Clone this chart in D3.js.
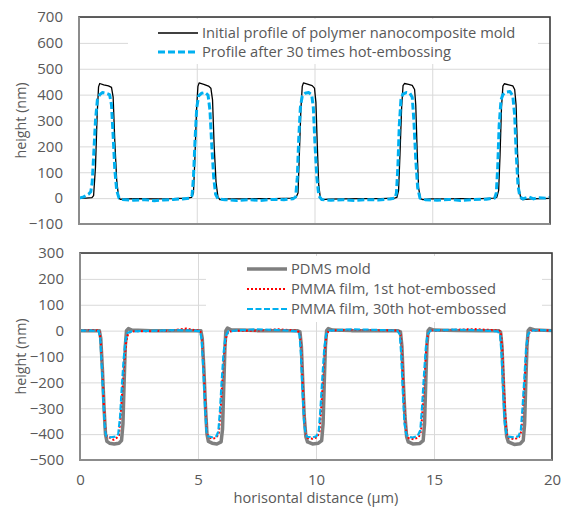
<!DOCTYPE html>
<html>
<head>
<meta charset="utf-8">
<script src="https://cdn.jsdelivr.net/npm/d3@7"></script>
<style>
  body { margin: 0; background: #ffffff; }
  text { font-family: "Open Sans", sans-serif; fill: #595959; }
</style>
</head>
<body>
<svg id="chart" width="562" height="509"></svg>
<script>
/**
 * Height profiles. Each point is [distance (um), height (nm)]
 */

// top panel: nanocomposite mold
var initialProfile = [
    [0,0],[0.3,0],[0.55,2],
    [0.62,10],[0.7,120],[0.77,320],[0.83,430],[0.88,443],[1.05,438],[1.25,434],[1.38,428],[1.45,390],[1.52,220],[1.6,70],[1.68,5],[1.75,-5],[1.9,-3],
    [2.5,-2],[3.2,-3],[4.0,-2],[4.6,0],[4.78,3],
    [4.86,20],[4.92,150],[4.99,340],[5.05,432],[5.1,445],[5.3,440],[5.5,433],[5.6,425],[5.67,380],[5.74,200],[5.82,60],[5.9,5],[5.98,-6],[6.2,-3],
    [6.8,-3],[7.5,-2],[8.3,-2],[9.0,0],[9.22,3],
    [9.3,20],[9.35,150],[9.42,340],[9.48,432],[9.53,445],[9.7,441],[9.9,435],[10.0,425],[10.06,370],[10.12,200],[10.18,50],[10.25,0],[10.35,-6],[10.6,-4],
    [11.2,-3],[12,-2],[12.8,-2],[13.4,0],[13.5,3],
    [13.57,30],[13.63,170],[13.7,350],[13.76,435],[13.82,443],[14.0,440],[14.15,436],[14.25,420],[14.3,360],[14.36,180],[14.42,40],[14.5,-2],[14.6,-6],[14.9,-3],
    [15.5,-3],[16.3,-2],[17.1,-2],[17.6,0],[17.74,3],
    [17.82,30],[17.88,170],[17.94,350],[18.0,433],[18.06,442],[18.25,438],[18.42,434],[18.5,420],[18.56,360],[18.62,180],[18.68,40],[18.76,-2],[18.86,-6],[19.2,-3],[19.6,-2],[20,-1]
];

var after30Profile = [
    [0,0],[0.2,5],[0.4,15],[0.5,25],[0.56,60],[0.62,160],[0.7,300],[0.78,380],[0.88,400],[1.0,408],[1.15,405],[1.3,400],[1.38,360],[1.45,240],[1.52,110],[1.6,30],[1.7,0],[1.85,-5],
    [2.3,-8],[2.8,-6],[3.2,-10],[3.6,-7],[4.0,-5],[4.4,-3],[4.7,0],
    [4.8,10],[4.86,80],[4.93,230],[5.0,350],[5.08,395],[5.2,405],[5.35,408],[5.48,398],[5.56,340],[5.64,200],[5.72,80],[5.8,15],[5.9,-3],
    [6.2,-6],[6.7,-9],[7.2,-6],[7.7,-9],[8.2,-5],[8.7,-6],[9.1,-2],
    [9.2,5],[9.27,80],[9.33,230],[9.4,350],[9.48,395],[9.6,405],[9.75,408],[9.88,400],[9.95,350],[10.02,210],[10.1,80],[10.18,10],[10.3,-5],
    [10.7,-8],[11.2,-6],[11.7,-9],[12.2,-6],[12.7,-7],[13.2,-3],[13.42,0],
    [13.48,20],[13.54,120],[13.6,280],[13.67,380],[13.75,402],[13.9,408],[14.05,405],[14.15,390],[14.22,300],[14.3,150],[14.38,40],[14.48,0],
    [14.7,-6],[15.2,-8],[15.7,-5],[16.2,-9],[16.7,-6],[17.3,-4],[17.65,0],
    [17.72,20],[17.78,120],[17.84,280],[17.92,380],[18.0,400],[18.15,410],[18.3,412],[18.42,395],[18.5,320],[18.56,180],[18.64,50],[18.72,5],[18.85,-3],
    [19.1,5],[19.3,-3],[19.5,2],[19.8,0],[20,3]
];

// bottom panel: PDMS mold and PMMA replicas
var pdmsMold = [
    [0,0],[0.6,0],[0.82,0],
    [0.88,-30],[0.95,-150],[1.02,-300],[1.08,-400],[1.14,-428],[1.25,-435],[1.45,-438],[1.65,-435],[1.76,-425],[1.82,-360],[1.87,-200],[1.92,-60],[1.97,0],[2.05,8],[2.2,2],
    [3,0],[4,0],[4.9,0],[5.12,0],
    [5.18,-30],[5.25,-150],[5.32,-300],[5.38,-400],[5.44,-428],[5.6,-435],[5.8,-438],[5.98,-430],[6.04,-380],[6.09,-220],[6.14,-70],[6.18,0],[6.25,10],[6.4,3],
    [7.5,0],[8.5,0],[9.2,0],[9.32,-5],
    [9.38,-60],[9.44,-200],[9.5,-330],[9.57,-410],[9.64,-430],[9.85,-438],[10.1,-435],[10.24,-425],[10.3,-360],[10.35,-200],[10.4,-60],[10.45,0],[10.52,8],[10.7,2],
    [11.5,0],[12.5,0],[13.45,0],[13.58,-5],
    [13.64,-60],[13.7,-200],[13.77,-330],[13.84,-410],[13.91,-430],[14.1,-438],[14.4,-436],[14.54,-425],[14.6,-360],[14.65,-200],[14.7,-60],[14.75,0],[14.82,8],[15,2],
    [16,0],[17,0],[17.72,0],[17.82,-5],
    [17.88,-60],[17.94,-200],[18.0,-330],[18.08,-410],[18.15,-430],[18.4,-440],[18.65,-437],[18.78,-425],[18.84,-360],[18.89,-200],[18.94,-60],[18.99,0],[19.06,8],[19.3,2],[20,0]
];

var pmmaFirst = [
    [0,0],[0.5,2],[0.82,0],
    [0.88,-40],[0.95,-160],[1.02,-300],[1.08,-390],[1.14,-410],[1.3,-415],[1.42,-422],[1.55,-415],[1.65,-405],[1.72,-330],[1.8,-220],[1.88,-120],[1.96,-40],[2.05,-10],[2.2,-3],
    [3,-2],[3.8,0],[4.5,8],[4.8,3],[5.1,0],
    [5.18,-40],[5.25,-160],[5.32,-300],[5.38,-395],[5.45,-412],[5.6,-418],[5.75,-415],[5.88,-400],[5.95,-320],[6.02,-210],[6.1,-100],[6.18,-30],[6.28,-5],
    [6.6,0],[7.5,0],[8.4,5],[9.2,0],[9.32,-10],
    [9.38,-80],[9.45,-230],[9.52,-360],[9.58,-405],[9.65,-415],[9.85,-418],[10.05,-412],[10.15,-390],[10.22,-300],[10.3,-180],[10.38,-70],[10.45,-15],[10.55,0],
    [11.5,3],[12.5,2],[13.5,0],[13.58,-10],
    [13.64,-80],[13.71,-230],[13.78,-360],[13.85,-405],[13.92,-415],[14.15,-420],[14.35,-412],[14.45,-390],[14.52,-300],[14.6,-180],[14.67,-70],[14.74,-15],[14.85,0],
    [15.8,3],[16.7,6],[17.5,2],[17.78,0],[17.84,-10],
    [17.9,-80],[17.97,-230],[18.04,-360],[18.1,-405],[18.18,-415],[18.4,-420],[18.6,-412],[18.7,-390],[18.77,-300],[18.85,-180],[18.92,-70],[19.0,-15],[19.1,0],
    [19.5,2],[20,0]
];

var pmmaThirtieth = [
    [0,0],[0.5,0],[0.8,-2],
    [0.86,-30],[0.93,-150],[1.0,-290],[1.06,-385],[1.12,-408],[1.3,-412],[1.5,-410],[1.62,-400],[1.7,-330],[1.77,-220],[1.85,-110],[1.93,-35],[2.02,-8],[2.2,-3],
    [3,-1],[4,2],[4.8,0],[5.1,-3],
    [5.16,-40],[5.23,-160],[5.3,-300],[5.36,-390],[5.43,-408],[5.6,-412],[5.78,-408],[5.86,-390],[5.93,-310],[6.0,-200],[6.08,-90],[6.16,-25],[6.28,-3],
    [6.8,2],[7.5,5],[8.5,2],[9.2,-3],[9.3,-15],
    [9.36,-90],[9.43,-240],[9.5,-360],[9.56,-400],[9.63,-410],[9.85,-413],[10.02,-408],[10.12,-385],[10.19,-300],[10.27,-180],[10.35,-70],[10.43,-15],[10.55,0],
    [11.5,5],[12.5,3],[13.45,0],[13.55,-15],
    [13.61,-90],[13.68,-240],[13.75,-360],[13.82,-400],[13.9,-410],[14.1,-413],[14.3,-408],[14.42,-385],[14.49,-300],[14.57,-180],[14.65,-70],[14.72,-15],[14.85,0],
    [15.8,4],[16.8,2],[17.7,-3],[17.8,-15],
    [17.86,-90],[17.93,-240],[18.0,-360],[18.07,-400],[18.15,-410],[18.4,-413],[18.58,-408],[18.68,-385],[18.75,-300],[18.83,-180],[18.9,-70],[18.98,-15],[19.1,0],
    [19.5,2],[20,0]
];

// axis ticks and labels
var xTicks = [0, 5, 10, 15, 20];
var topYTicks = [700, 600, 500, 400, 300, 200, 100, 0, -100];
var bottomYTicks = [300, 200, 100, 0, -100, -200, -300, -400, -500];
var topLegend = ["Initial profile of polymer nanocomposite mold", "Profile after 30 times hot-embossing"];
var bottomLegend = ["PDMS mold", "PMMA film, 1st hot-embossed", "PMMA film, 30th hot-embossed"];
var yTitle = "height (nm)";
var xTitle = "horisontal distance (\u00b5m)";

var svg = d3.select("#chart");

/**
 * Draw one panel: grid, frame, tick labels, series and legend
 */
function drawPanel(opts) {

    var x = d3.scaleLinear().domain([0, 20]).range([opts.left, opts.right]);
    var y = d3.scaleLinear().domain(opts.yDomain).range([opts.bottom, opts.top]);

    var g = svg.append("g");

    // horizontal gridlines
    g.append("g")
        .attr("transform", "translate(" + opts.left + ",0)")
        .call(d3.axisLeft(y).tickValues(opts.yTicks).tickSize(-(opts.right - opts.left)).tickFormat(""))
        .call(function (a) {
            a.select(".domain").remove();
            a.selectAll("line").attr("stroke", "#d9d9d9").attr("stroke-width", 1);
        });

    // vertical gridlines
    g.append("g")
        .attr("transform", "translate(0," + opts.bottom + ")")
        .call(d3.axisBottom(x).tickValues([5, 10, 15]).tickSize(-(opts.bottom - opts.top)).tickFormat(""))
        .call(function (a) {
            a.select(".domain").remove();
            a.selectAll("line").attr("stroke", "#d9d9d9").attr("stroke-width", 1);
        });

    // legend box hides the grid behind it
    g.append("rect")
        .attr("x", opts.legendBox[0])
        .attr("y", opts.legendBox[1])
        .attr("width", opts.legendBox[2])
        .attr("height", opts.legendBox[3])
        .attr("fill", "#ffffff");

    // y tick labels
    g.append("g")
        .attr("transform", "translate(" + opts.left + ",0)")
        .call(d3.axisLeft(y).tickValues(opts.yTicks).tickSize(0).tickPadding(16))
        .call(function (a) {
            a.select(".domain").remove();
            a.selectAll("text")
                .style("font-size", "15px")
                .style("font-family", "'Open Sans', sans-serif")
                .attr("fill", "#595959");
        });

    // y title
    g.append("text")
        .attr("transform", "translate(21," + ((opts.top + opts.bottom) / 2) + ") rotate(-90)")
        .attr("text-anchor", "middle")
        .attr("dy", "0.35em")
        .style("font-size", "14.3px")
        .text(yTitle);

    // series
    var line = d3.line()
        .x(function (d) { return x(d[0]); })
        .y(function (d) { return y(d[1]); });

    opts.series.forEach(function (s) {
        g.append("path")
            .datum(s.data)
            .attr("fill", "none")
            .attr("stroke", s.color)
            .attr("stroke-width", s.width)
            .attr("stroke-dasharray", s.dash)
            .attr("stroke-linejoin", "round")
            .attr("d", line);
    });

    // frame
    g.append("rect")
        .attr("x", opts.left)
        .attr("y", opts.top)
        .attr("width", opts.right - opts.left)
        .attr("height", opts.bottom - opts.top)
        .attr("fill", "none")
        .attr("stroke", "#3a3a3a")
        .attr("stroke-width", 1.6);

    g.append("path")
        .attr("d", "M" + opts.left + "," + opts.top + "V" + opts.bottom + "H" + opts.right)
        .attr("fill", "none")
        .attr("stroke", "#8c8c8c")
        .attr("stroke-width", 2);

    // legend entries
    opts.series.forEach(function (s, i) {
        var ly = opts.legendY + i * opts.legendStep;
        g.append("line")
            .attr("x1", opts.legendX)
            .attr("x2", opts.legendX + opts.legendLen)
            .attr("y1", ly)
            .attr("y2", ly)
            .attr("stroke", s.color)
            .attr("stroke-width", s.width)
            .attr("stroke-dasharray", s.dash);
        g.append("text")
            .attr("x", opts.legendX + opts.legendLen + 4)
            .attr("y", ly)
            .attr("dy", "0.35em")
            .style("font-size", "14.7px")
            .text(s.label);
    });

    return { x: x, y: y, g: g };
}

// top panel
drawPanel({
    left: 79, right: 550, top: 17, bottom: 224,
    yDomain: [-100, 700],
    yTicks: topYTicks,
    legendBox: [128, 19, 410, 45],
    legendX: 158, legendY: 33, legendStep: 19, legendLen: 40,
    series: [
        { data: initialProfile, color: "#000000", width: 1.3, dash: null, label: topLegend[0] },
        { data: after30Profile, color: "#00b0f0", width: 3, dash: "7,3", label: topLegend[1] }
    ]
});

// bottom panel
var bottom = drawPanel({
    left: 80, right: 552, top: 253, bottom: 460,
    yDomain: [-500, 300],
    yTicks: bottomYTicks,
    legendBox: [206, 256, 336, 66],
    legendX: 247, legendY: 269, legendStep: 20, legendLen: 40,
    series: [
        { data: pdmsMold, color: "#7f7f7f", width: 3.5, dash: null, label: bottomLegend[0] },
        { data: pmmaFirst, color: "#ff0000", width: 2, dash: "2,2", label: bottomLegend[1] },
        { data: pmmaThirtieth, color: "#00b0f0", width: 2.2, dash: "6,2.5", label: bottomLegend[2] }
    ]
});

// x tick labels (bottom panel only)
bottom.g.append("g")
    .attr("transform", "translate(0,460)")
    .call(d3.axisBottom(bottom.x).tickValues(xTicks).tickSize(0).tickPadding(14))
    .call(function (a) {
        a.select(".domain").remove();
        a.selectAll("text")
            .style("font-size", "15px")
            .style("font-family", "'Open Sans', sans-serif")
            .attr("fill", "#595959");
    });

bottom.g.append("text")
    .attr("x", 316)
    .attr("y", 503)
    .attr("text-anchor", "middle")
    .style("font-size", "14.6px")
    .text(xTitle);
</script>
</body>
</html>
